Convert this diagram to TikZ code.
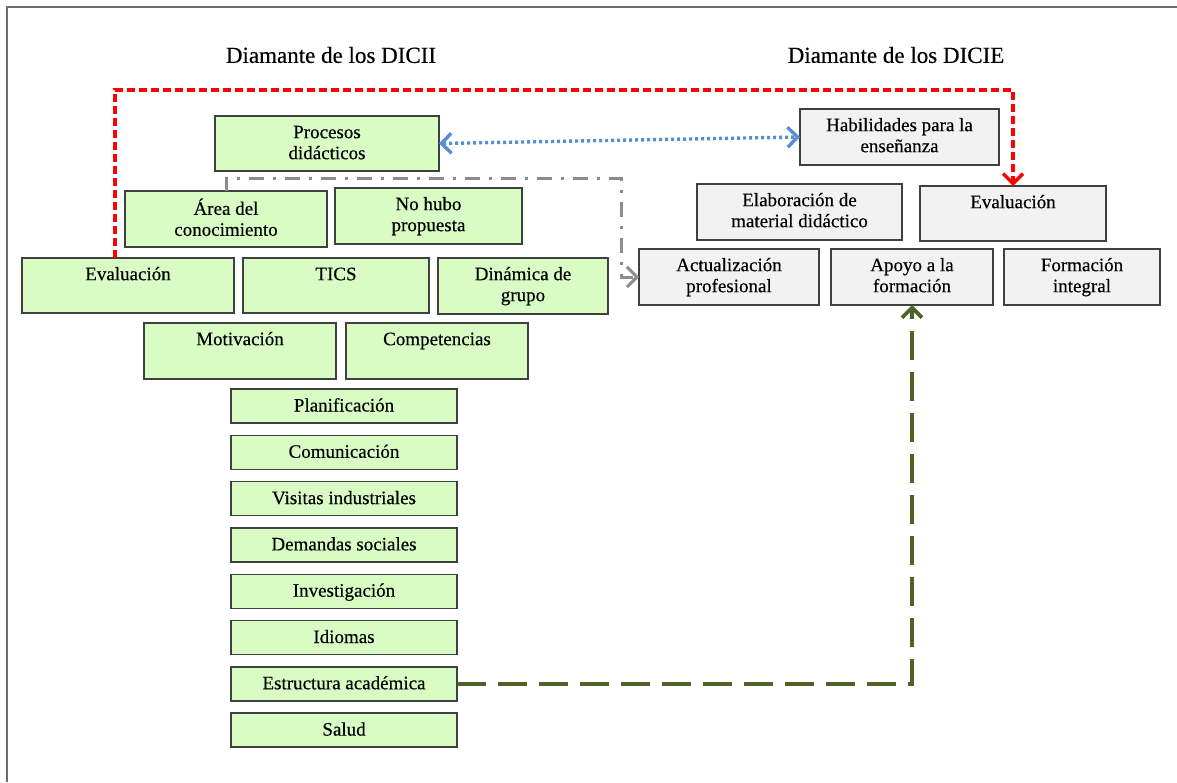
\documentclass[tikz,border=0pt]{standalone}
\usepackage{fontspec}
\setmainfont{Liberation Serif}
\newfontfamily\heavyserif{Liberation Serif}[FakeBold=0.35]
\usetikzlibrary{arrows.meta}

\definecolor{boxgreen}{RGB}{216,252,196}
\definecolor{boxgray}{RGB}{242,242,242}
\definecolor{boxline}{RGB}{64,64,64}
\definecolor{framecol}{RGB}{110,110,110}
\definecolor{linkred}{RGB}{255,0,0}
\definecolor{linkblue}{RGB}{85,142,213}
\definecolor{linkgray}{RGB}{140,140,140}
\definecolor{linkgreen}{RGB}{79,98,40}

\newcommand\bxfont{\heavyserif\fontsize{19}{21}\selectfont}
\newcommand\ttlfont{\heavyserif\fontsize{23}{27}\selectfont}

\begin{document}
\begin{tikzpicture}[x=1pt,y=-1pt,
  bx/.style={draw=boxline, line width=1.4pt, inner sep=0pt, outer sep=0pt},
  gbox/.style={bx, fill=boxgreen},
  wbox/.style={bx, fill=boxgray},
  lbl/.style={anchor=north, yshift=-7.3pt, align=center, inner sep=0pt, font=\bxfont},
  lst/.style={gbox, minimum width=226pt, minimum height=34pt, font=\bxfont,
              text height=13pt, text depth=2pt},
  ttl/.style={font=\ttlfont, inner sep=0pt},
  barb/.tip={Straight Barb[length=10pt,width=20pt]},
  tipV/.style={-barb},
]
\useasboundingbox (0,0) rectangle (1177,782);

% page frame (top and left edges)
\draw[framecol, line width=2.2pt] (1177,7) -- (7,7) -- (7,782);

% titles
\node[ttl] (t1) at (331,55) {Diamante de los DICII};
\node[ttl] (t2) at (896,55) {Diamante de los DICIE};

% DICII diamond
\node[gbox, minimum width=224pt, minimum height=55pt,
      label={[lbl]north:{\strut Procesos\\didácticos}}] (proc) at (327,143.5) {};
\node[gbox, minimum width=202pt, minimum height=56pt,
      label={[lbl]north:{\strut Área del\\conocimiento}}] (ar) at (226,219) {};
\node[gbox, minimum width=187pt, minimum height=56pt,
      label={[lbl]north:{\strut No hubo\\propuesta}}] (nh) at (428.5,216) {};
\node[gbox, minimum width=212pt, minimum height=55pt,
      label={[lbl]north:{\strut Evaluación}}] (ev1) at (128,285.5) {};
\node[gbox, minimum width=186pt, minimum height=55pt,
      label={[lbl]north:{\strut TICS}}] (tics) at (336,285.5) {};
\node[gbox, minimum width=170pt, minimum height=56pt,
      label={[lbl]north:{\strut Dinámica de\\grupo}}] (din) at (523,286) {};
\node[gbox, minimum width=192pt, minimum height=56pt,
      label={[lbl]north:{\strut Motivación}}] (mot) at (240,351) {};
\node[gbox, minimum width=182pt, minimum height=56pt,
      label={[lbl]north:{\strut Competencias}}] (comp) at (437,351) {};

\node[lst] (pla) at (344,406.0) {Planificación};
\node[lst] (com) at (344,452.3) {Comunicación};
\node[lst] (vis) at (344,498.6) {Visitas industriales};
\node[lst] (dem) at (344,544.9) {Demandas sociales};
\node[lst] (inv) at (344,591.2) {Investigación};
\node[lst] (idi) at (344,637.5) {Idiomas};
\node[lst] (est) at (344,683.8) {Estructura académica};
\node[lst] (sal) at (344,730.1) {Salud};

% DICIE diamond
\node[wbox, minimum width=199pt, minimum height=56pt,
      label={[lbl]north:{\strut Habilidades para la\\enseñanza}}] (hab) at (899.5,137) {};
\node[wbox, minimum width=205pt, minimum height=56pt,
      label={[lbl]north:{\strut Elaboración de\\material didáctico}}] (elab) at (799.5,212) {};
\node[wbox, minimum width=186pt, minimum height=55pt,
      label={[lbl]north:{\strut Evaluación}}] (ev2) at (1013,213.5) {};
\node[wbox, minimum width=180pt, minimum height=56pt,
      label={[lbl]north:{\strut Actualización\\profesional}}] (act) at (729,277) {};
\node[wbox, minimum width=162pt, minimum height=56pt,
      label={[lbl]north:{\strut Apoyo a la\\formación}}] (apo) at (912,277) {};
\node[wbox, minimum width=156pt, minimum height=56pt,
      label={[lbl]north:{\strut Formación\\integral}}] (form) at (1082,277) {};

% connectors
\coordinate (redA) at ([xshift=-13pt]ev1.north);
\coordinate (redtop) at (115,90);
\draw[linkred, line width=3.4pt, dash pattern=on 8pt off 4pt, tipV]
  (redA) -- (redtop) -| (ev2.north);

\draw[linkblue, line width=3.4pt, dash pattern=on 3pt off 3pt, barb-barb]
  (proc.east) -- (hab.west);

\coordinate (gcorner) at (621,178);
\draw[linkgray, line width=3pt, dash pattern=on 15pt off 9pt on 3pt off 9pt, tipV]
  (ar.north) |- (gcorner) |- (act.west);

\draw[linkgreen, line width=3.8pt, dash pattern=on 29pt off 12pt, tipV]
  (est.east) -| (apo.south);
\end{tikzpicture}
\end{document}
